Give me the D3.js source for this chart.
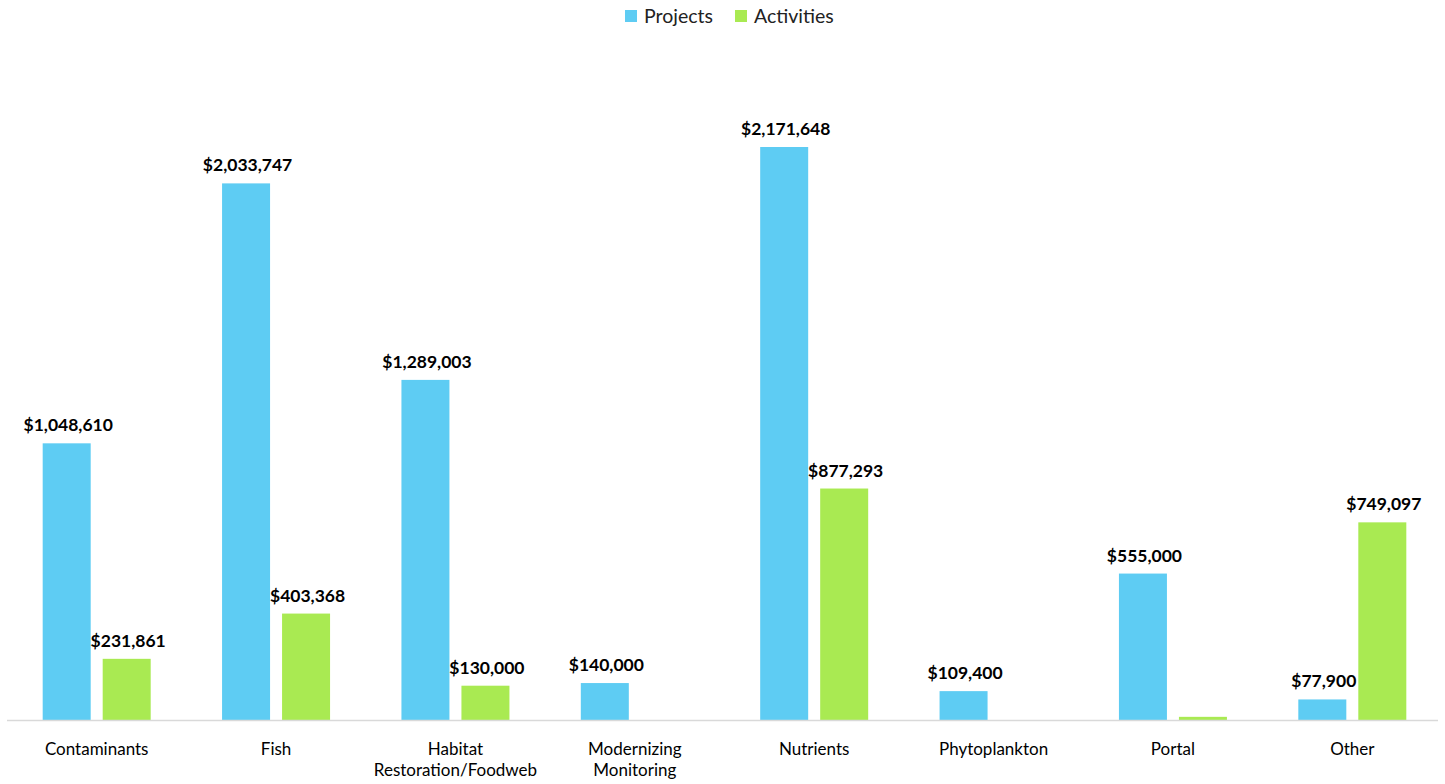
<!DOCTYPE html>
<html><head><meta charset="utf-8">
<script src="https://cdn.jsdelivr.net/npm/d3@7"></script>
<style>body{margin:0;background:#fff}svg{display:block}text{font-family:Lato,"Open Sans",sans-serif}</style>
</head><body><svg id="c" width="1445" height="784"></svg>
<script>
const categories = [["Contaminants"],["Fish"],["Habitat","Restoration/Foodweb"],["Modernizing","Monitoring"],["Nutrients"],["Phytoplankton"],["Portal"],["Other"]];
const seriesNames = ["Projects","Activities"];
const projects = [1048610,2033747,1289003,140000,2171648,109400,555000,77900];
const activities = [231861,403368,130000,null,877293,null,12000,749097];
const showLabel = [[true,true],[true,true],[true,true],[true,false],[true,true],[true,false],[true,false],[true,true]];
const colors = ["#5ECCF3","#A9EA52"];

const svg = d3.select("#c");
const x0 = d3.scaleBand().domain(d3.range(categories.length)).range([7,1442]);
const y = d3.scaleLinear().domain([0,2171648]).range([720,147]);
const bw = 48, gap = 12;
const fmt = v => "$" + d3.format(",")(v);

categories.forEach((c,i)=>{
  const cx = x0(i) + x0.bandwidth()/2;
  [projects[i], activities[i]].forEach((v,s)=>{
    if (v==null) return;
    const bx = s===0 ? cx - gap/2 - bw : cx + gap/2;
    svg.append("rect").attr("x",bx).attr("y",y(v)).attr("width",bw).attr("height",720-y(v)).attr("fill",colors[s]);
    if (showLabel[i][s]) {
      svg.append("text").attr("x",bx+bw/2+1.5).attr("y",y(v)-12).attr("text-anchor","middle")
        .attr("font-size",17.5).attr("font-weight","bold").attr("fill","#000").text(fmt(v));
    }
  });
  const t = svg.append("text").attr("x",cx).attr("y",755).attr("text-anchor","middle").attr("font-size",17).attr("fill","#000");
  c.forEach((l,k)=>t.append("tspan").attr("x",cx).attr("dy",k?21:0).text(l));
});
svg.append("line").attr("x1",7).attr("x2",1438).attr("y1",720.5).attr("y2",720.5).attr("stroke","#d9d9d9").attr("stroke-width",1.5);

// legend
const lg = [{x:625,name:seriesNames[0],c:colors[0]},{x:735,name:seriesNames[1],c:colors[1]}];
lg.forEach(d=>{
  svg.append("rect").attr("x",d.x).attr("y",10).attr("width",12).attr("height",12).attr("fill",d.c);
  svg.append("text").attr("x",d.x+19).attr("y",23).attr("font-size",19.5).attr("fill","#222").text(d.name);
});
</script></body></html>
